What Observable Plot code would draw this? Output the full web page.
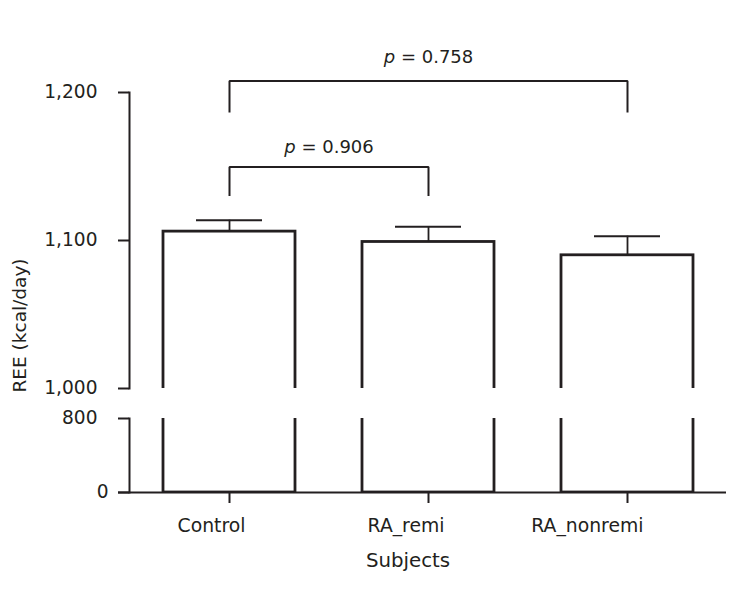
<!DOCTYPE html>
<html>
<head>
<meta charset="utf-8">
<script src="https://cdn.jsdelivr.net/npm/d3@7"></script>
<script src="https://cdn.jsdelivr.net/npm/@observablehq/plot@0.6"></script>
<style>
  html, body { margin: 0; padding: 0; background: #fff; }
  #chart { width: 756px; height: 594px; overflow: hidden; }
  #chart svg { display: block; overflow: visible; }
</style>
</head>
<body>
<div id="chart"></div>
<script>
// ---- data ----
const categories = ["Control", "RA_remi", "RA_nonremi"];
const means = [1106, 1099, 1090];
const upper = [1113.7, 1109.3, 1102.9];
const upperTicks = [1000, 1100, 1200];
const lowerTicks = [0, 800];
const bracketFrom = ["Control", "Control"];
const bracketTo = ["RA_remi", "RA_nonremi"];
const bracketLow = [1130, 1186.5];
const bracketHigh = [1149.7, 1207.8];
const bracketLabelY = [1162.8, 1223.9];
const pValues = ["0.906", "0.758"];
const yLabel = "REE (kcal/day)";
const xLabel = "Subjects";

const data = categories.map((c, i) => ({group: c, mean: means[i], upper: upper[i]}));
const brackets = pValues.map((p, i) => ({id: i, a: bracketFrom[i], b: bracketTo[i], low: bracketLow[i], high: bracketHigh[i], labelY: bracketLabelY[i], p}));
const bracketPts = brackets.flatMap(b => [
  {id: b.id, x: b.a, y: b.low}, {id: b.id, x: b.a, y: b.high},
  {id: b.id, x: b.b, y: b.high}, {id: b.id, x: b.b, y: b.low}
]);

const ink = "#231f20";
const W = 756, ML = 129, MR = 30;
const xOpts = {domain: categories, paddingInner: 0.337, paddingOuter: 0.1685};
const xs = Plot.scale({x: {...xOpts, type: "band", range: [ML, W - MR]}});
const font = {fontFamily: "DejaVu Sans", fontSize: "18px", color: ink, background: "transparent", overflow: "visible"};

const upperPlot = Plot.plot({
  width: W, height: 400,
  marginLeft: ML, marginRight: MR, marginTop: 92, marginBottom: 12,
  style: font,
  x: {...xOpts, axis: null},
  y: {domain: [1000, 1200], axis: null},
  marks: [
    Plot.barY(data, {x: "group", y1: d => 980, y2: "mean", fill: "white", stroke: ink, strokeWidth: 2.8, clip: true}),
    Plot.ruleX(data, {x: "group", y1: "mean", y2: "upper", stroke: ink, strokeWidth: 1.8}),
    Plot.tickY(data, {x: "group", y: "upper", stroke: ink, strokeWidth: 2, inset: 33}),
    Plot.line(bracketPts, {x: "x", y: "y", z: "id", stroke: ink, strokeWidth: 2, strokeLinejoin: "miter", strokeLinecap: "butt"}),
    ...brackets.map(b => Plot.text([b], {
      x: "a", y: "labelY", text: d => "p = " + d.p,
      dx: (xs.apply(b.b) - xs.apply(b.a)) / 2,
      fontSize: 18, fill: ink, lineAnchor: "middle"
    })),
    Plot.axisY({ticks: upperTicks, tickFormat: d3.format(","), tickSize: 11, tickPadding: 21, fontSize: 18.6, label: null, stroke: ink, strokeWidth: 2, color: ink}),
    Plot.frame({anchor: "left", stroke: ink, strokeWidth: 2}),
    Plot.text([yLabel], {frameAnchor: "left", dx: -109, dy: 85, rotate: -90, textAnchor: "middle", fontSize: 18.5, fill: ink, lineAnchor: "middle"})
  ]
});

const lowerPlot = Plot.plot({
  width: W, height: 194,
  marginLeft: ML, marginRight: MR, marginTop: 18, marginBottom: 102,
  style: font,
  x: {...xOpts, axis: null},
  y: {domain: [0, 800], axis: null},
  marks: [
    Plot.barY(data, {x: "group", y1: d => 0, y2: d => 900, fill: "white", stroke: ink, strokeWidth: 2.8, clip: true}),
    Plot.axisY({ticks: [lowerTicks[1]], tickFormat: d3.format(","), tickSize: 11, tickPadding: 21, fontSize: 18.6, label: null, stroke: ink, strokeWidth: 2, color: ink}),
    Plot.axisY({ticks: [lowerTicks[0]], tickFormat: d3.format(","), tickSize: 11, tickPadding: 10, fontSize: 18.6, label: null, stroke: ink, strokeWidth: 2, color: ink}),
    Plot.frame({anchor: "left", stroke: ink, strokeWidth: 2}),
    Plot.ruleY([0], {stroke: ink, strokeWidth: 2, insetLeft: -11}),
    Plot.axisX({tickSize: 11, tickFormat: () => "", label: null, stroke: ink, strokeWidth: 2}),
    Plot.text(categories, {x: d => d, frameAnchor: "bottom", dy: 33, dx: 16, textAnchor: "end", lineAnchor: "middle", fontSize: 18.8, fill: ink}),
    Plot.text([xLabel], {frameAnchor: "bottom", dy: 68, dx: -20, lineAnchor: "middle", fontSize: 19.8, fill: ink})
  ]
});

const chart = document.getElementById("chart");
chart.append(upperPlot, lowerPlot);

// italicize the "p" in p-value labels
upperPlot.querySelectorAll("text").forEach(t => {
  const s = t.textContent;
  if (s.startsWith("p = ")) {
    while (t.firstChild) t.removeChild(t.firstChild);
    const ns = "http://www.w3.org/2000/svg";
    const a = document.createElementNS(ns, "tspan");
    a.setAttribute("font-style", "italic");
    a.textContent = "p";
    const b = document.createElementNS(ns, "tspan");
    b.textContent = s.slice(1);
    t.append(a, b);
  }
});
</script>
</body>
</html>
